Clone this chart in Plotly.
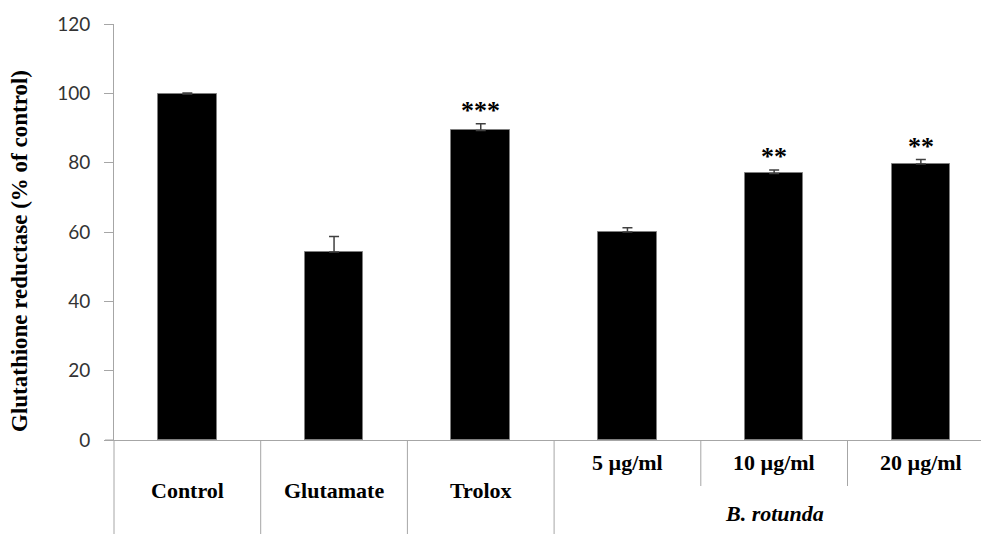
import plotly.graph_objects as go

categories = ["Control", "Glutamate", "Trolox", "5 µg/ml", "10 µg/ml", "20 µg/ml"]
values = [99.8, 54.2, 89.3, 60.0, 76.9, 79.6]
errors = [0.3, 4.5, 1.9, 1.2, 1.0, 1.3]
stars = ["", "", "***", "", "**", "**"]
group_label = "B. rotunda"
group_members = [3, 4, 5]
y_ticks = [0, 20, 40, 60, 80, 100, 120]

W, H = 981, 534
ML, MT, MB = 114, 24, 94
plot_h = H - MT - MB
plot_w = W - ML
px_per_cat = 146.7
x_pos = list(range(len(categories)))
x_max = -0.5 + plot_w / px_per_cat

serif = "Liberation Serif"
axis_col = "#a6a6a6"

fig = go.Figure()
fig.add_trace(go.Bar(
    x=x_pos, y=values, width=0.4,
    marker=dict(color="black", line=dict(color="#7f7f7f", width=1)),
    error_y=dict(type="data", array=errors, arrayminus=[0] * len(errors),
                 symmetric=False, color="#404040", thickness=1.5, width=5),
    showlegend=False, hoverinfo="skip",
))

def py(pix):
    # pixel row -> paper (plot-area) coordinate
    return (H - MB - pix) / plot_h

def px(pix):
    # pixel column -> paper (plot-area) coordinate
    return (pix - ML) / plot_w

annotations = []
for i, (v, e, s) in enumerate(zip(values, errors, stars)):
    if s:
        annotations.append(dict(x=i, y=v + e, xref="x", yref="y", text="<b>%s</b>" % s,
                                showarrow=False, yanchor="bottom", yshift=-3,
                                font=dict(family=serif, size=26, color="black")))

for i, c in enumerate(categories):
    yy = py(463) if i in group_members else py(490)
    annotations.append(dict(x=i, y=yy, xref="x", yref="paper", text="<b>%s</b>" % c,
                            showarrow=False, yanchor="middle",
                            font=dict(family=serif, size=22, color="black")))
gx = sum(group_members) / len(group_members)
annotations.append(dict(x=gx, y=py(513), xref="x", yref="paper",
                        text="<b><i>%s</i></b>" % group_label, showarrow=False,
                        yanchor="middle", font=dict(family=serif, size=22, color="black")))
annotations.append(dict(x=px(20), y=py(251), xref="paper", yref="paper",
                        text="<b>Glutathione reductase (% of control)</b>", textangle=-90,
                        showarrow=False, xanchor="center", yanchor="middle",
                        font=dict(family=serif, size=23, color="black")))

shapes = []
shapes.append(dict(type="line", xref="paper", yref="paper", x0=0, x1=0,
                   y0=0, y1=py(H), line=dict(color=axis_col, width=1)))
for b in range(len(categories) - 1):
    bx = b + 0.5
    inner = (b + 1) in group_members and b in group_members
    y_end = py(486) if inner else py(H)
    shapes.append(dict(type="line", xref="x", yref="paper", x0=bx, x1=bx,
                       y0=0, y1=y_end, line=dict(color=axis_col, width=1)))
shapes.append(dict(type="line", xref="paper", yref="paper", x0=px(105), x1=0,
                   y0=0, y1=0, line=dict(color=axis_col, width=1)))

fig.update_layout(
    width=W, height=H,
    margin=dict(l=ML, r=0, t=MT, b=MB, autoexpand=False),
    plot_bgcolor="white", paper_bgcolor="white",
    bargap=0,
    xaxis=dict(range=[-0.5, x_max], showticklabels=False, showgrid=False,
               zeroline=False, showline=True, linecolor=axis_col, linewidth=1,
               ticks="", fixedrange=True, automargin=False),
    yaxis=dict(range=[0, 120], tickvals=y_ticks, showgrid=False, zeroline=False,
               showline=True, linecolor=axis_col, linewidth=1,
               ticks="outside", ticklen=9, tickcolor=axis_col,
               ticklabelstandoff=10, automargin=False, fixedrange=True,
               tickfont=dict(family="Lato", size=19, color="#333333")),
    annotations=annotations,
    shapes=shapes,
)

fig.write_html("out.html", config={"displayModeBar": False},
               post_script="document.body.style.margin='0';document.body.style.overflow='hidden';")
